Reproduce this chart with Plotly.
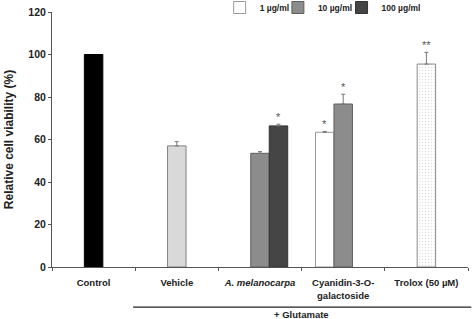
import plotly.graph_objects as go

categories = ["Control", "Vehicle", "<i>A. melanocarpa</i>", "Cyanidin-3-O-<br>galactoside", "Trolox (50 µM)"]

control_val = [100]
vehicle_val = [57]
vehicle_err = [2]
# concentration series: values per category (None = no bar)
c1_val = [None, None, None, 63.4, None]
c1_err = [0, 0, 0, 0.4, 0]
c10_val = [None, None, 53.5, 76.7, None]
c10_err = [0, 0, 0.8, 4.6, 0]
c100_val = [None, None, 66.4, None, None]
c100_err = [0, 0, 0.8, 0, 0]
trolox_val = [95.5]
trolox_err = [5.5]

stars = [(2, 1, "*"), (3, -1, "*"), (3, 0, "*"), (4, 0, "**")]  # (category idx, slot, text)

W = 0.222
FONT = "Liberation Sans, Arial, sans-serif"
TXT = "#222222"

fig = go.Figure()

def err(arr):
    return dict(type="data", array=arr, arrayminus=[0] * len(arr), symmetric=False,
                color="#777777", thickness=1, width=2)

fig.add_trace(go.Bar(x=[categories[0]], y=control_val, width=W, offset=-W / 2,
                     marker=dict(color="black", line=dict(color="black", width=1)),
                     showlegend=False))
fig.add_trace(go.Bar(x=[categories[1]], y=vehicle_val, width=W, offset=-W / 2,
                     error_y=err(vehicle_err),
                     marker=dict(color="#d9d9d9", line=dict(color="#808080", width=1)),
                     showlegend=False))
fig.add_trace(go.Bar(x=categories, y=c1_val, width=W, offset=-1.5 * W, name="1 µg/ml",
                     error_y=err(c1_err), legend="legend",
                     marker=dict(color="white", line=dict(color="#999999", width=1))))
fig.add_trace(go.Bar(x=categories, y=c10_val, width=W, offset=-0.5 * W, name="10 µg/ml",
                     error_y=err(c10_err), legend="legend2",
                     marker=dict(color="#8c8c8c", line=dict(color="#5e5e5e", width=1))))
fig.add_trace(go.Bar(x=categories, y=c100_val, width=W, offset=0.5 * W, name="100 µg/ml",
                     error_y=err(c100_err), legend="legend3",
                     marker=dict(color="#454545", line=dict(color="#333333", width=1))))
fig.add_trace(go.Bar(x=[categories[4]], y=trolox_val, width=W, offset=-W / 2,
                     error_y=err(trolox_err),
                     marker=dict(color="white", line=dict(color="#8a8a8a", width=1),
                                 pattern=dict(shape=".", fgcolor="#bdbdbd", bgcolor="white",
                                              size=3, solidity=0.2)),
                     showlegend=False))

series_by_slot = {-1: (c1_val, c1_err), 0: (c10_val, c10_err), 1: (c100_val, c100_err)}
for ci, slot, txt in stars:
    if ci == 4:
        top = trolox_val[0] + trolox_err[0]
        slot_x = ci
    else:
        v, e = series_by_slot[slot]
        top = v[ci] + e[ci]
        slot_x = ci + slot * W
    fig.add_annotation(x=slot_x, y=top, text=txt, showarrow=False, yanchor="bottom",
                       yshift=-1, font=dict(family=FONT, size=11, color="#555555"))

fig.add_shape(type="line", xref="paper", yref="paper", x0=0.195, x1=1.008, y0=-0.157, y1=-0.157,
              line=dict(color=TXT, width=1.2))
fig.add_annotation(xref="paper", yref="paper", x=0.60, y=-0.186, text="+ Glutamate", showarrow=False,
                   yanchor="middle", font=dict(family=FONT, size=9.5, color=TXT, weight="bold"))

leg_font = dict(family=FONT, size=8.5, color=TXT, weight="bold")
leg_common = dict(orientation="h", y=1.0745, yanchor="top", xanchor="left",
                  font=leg_font, bgcolor="rgba(0,0,0,0)", borderwidth=0)

fig.update_layout(
    width=472, height=319,
    margin=dict(l=52, r=4, t=12, b=52, autoexpand=False),
    barmode="overlay",
    plot_bgcolor="white", paper_bgcolor="white",
    font=dict(family=FONT, color=TXT),
    legend=dict(x=0.403, **leg_common),
    legend2=dict(x=0.543, **leg_common),
    legend3=dict(x=0.696, **leg_common),
    xaxis=dict(type="category", range=[-0.5, 4.5], tickson="boundaries", ticks="outside",
               ticklen=3, tickcolor="#555555", showline=True, linecolor="#555555", linewidth=1,
               tickfont=dict(family=FONT, size=9.5, color=TXT, weight="bold"),
               ticklabelstandoff=7, showgrid=False, zeroline=False, automargin=False),
    yaxis=dict(range=[0, 120], tickvals=[0, 20, 40, 60, 80, 100, 120],
               ticks="outside", ticklen=3, tickcolor="#555555", showline=True,
               linecolor="#555555", linewidth=1,
               tickfont=dict(family=FONT, size=10.5, color=TXT, weight="bold"),
               showgrid=False, zeroline=False, automargin=False,
               title=dict(text="Relative cell viability (%)", standoff=12,
                          font=dict(family=FONT, size=12, color=TXT, weight="bold"))),
)

fig.write_html("out.html", config={"displayModeBar": False},
               post_script="document.body.style.margin='0px';")
